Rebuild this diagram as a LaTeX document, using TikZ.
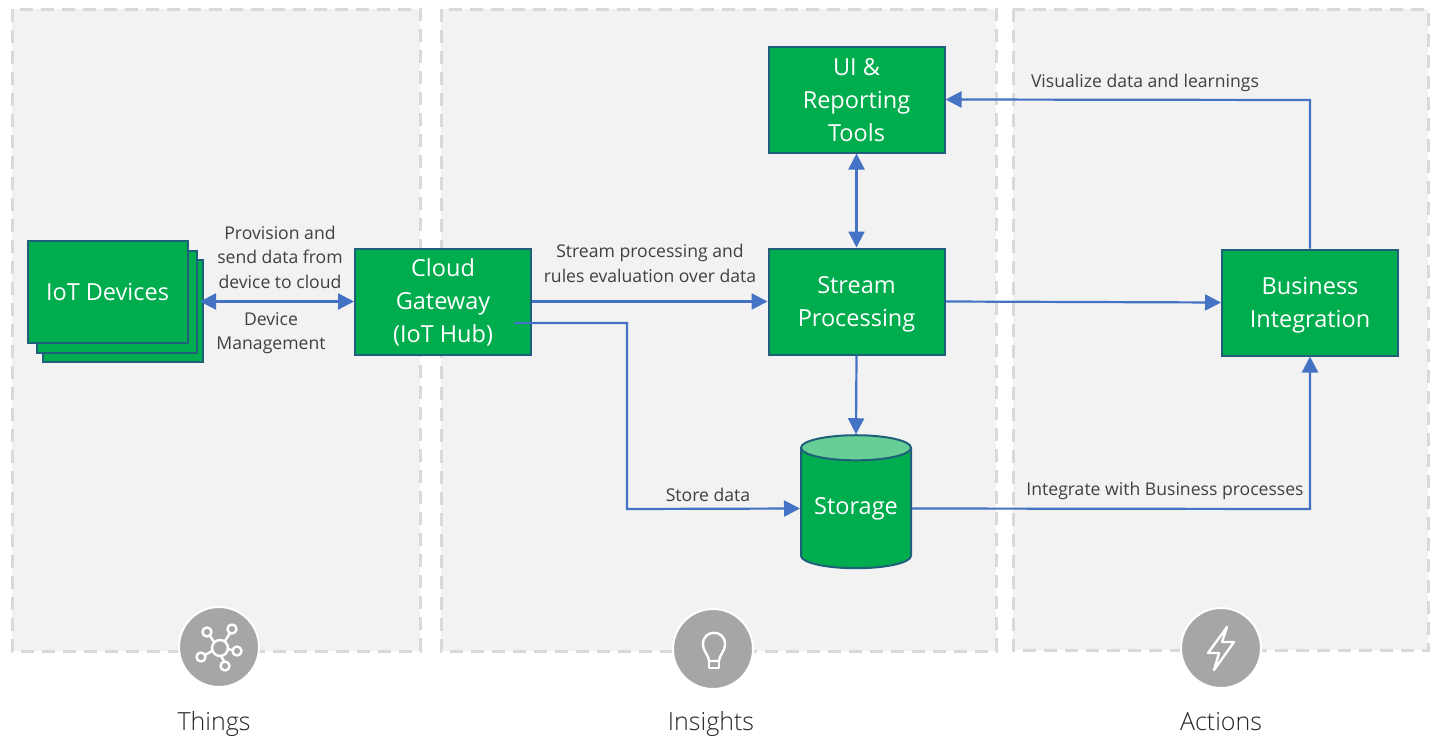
\documentclass[tikz,border=0pt]{standalone}
\usepackage{fontspec}
\setmainfont{Open Sans}
\newfontfamily\columnfont{Open Sans Light}
\usepackage{tikz}
\usetikzlibrary{arrows.meta,shapes.geometric}
\definecolor{panelgrey}{HTML}{F2F2F2}
\definecolor{dashgrey}{HTML}{D9D9D9}
\definecolor{boxgreen}{HTML}{00AD4E}
\definecolor{boxedge}{HTML}{1F5F7A}
\definecolor{arrowblue}{HTML}{4472C4}
\definecolor{iconlid}{HTML}{66CF95}
\definecolor{icongrey}{HTML}{A6A6A6}
\definecolor{textgrey}{HTML}{404040}
\tikzset{
  panel/.style={fill=panelgrey,draw=dashgrey,line width=3pt,dash pattern=on 13pt off 8pt},
  greenbox/.style={rectangle,fill=boxgreen,draw=boxedge,line width=2pt,inner sep=0pt,minimum width=176pt,minimum height=106pt,align=center,text=white,font=\fontsize{23.5}{33}\selectfont},
  stackbox/.style={rectangle,fill=boxgreen,draw=boxedge,line width=2pt,inner sep=0pt,minimum width=160pt,minimum height=102pt},
  flowlabel/.style={align=center,text=textgrey,inner sep=0pt,font=\fontsize{17.6}{24.5}\selectfont},
  flow/.style={arrowblue,line width=2.2pt,-{Triangle[length=16pt,width=16pt]}},
  flowboth/.style={arrowblue,line width=2.2pt,{Triangle[length=16pt,width=16pt]}-{Triangle[length=16pt,width=16pt]}},
  badge/.style={circle,fill=icongrey,draw=white,line width=2pt,inner sep=0pt,minimum size=80pt},
  column/.style={text=black!85,inner sep=0pt,anchor=base,font=\columnfont\fontsize{25}{28}\selectfont},
  iconline/.style={white,line width=2.4pt,line cap=round,line join=round}
}
\begin{document}
\begin{tikzpicture}[x=1pt,y=-1pt]
  \useasboundingbox (0,0) rectangle (1432,736);
  % panels
  \draw[panel] (12,9) rectangle (420,651);
  \draw[panel] (441,9) rectangle (996,651);
  \draw[panel] (1013,9) rectangle (1428,650);
  % devices stack
  \node (deviceback) at (122.5,310.5) [stackbox] {};
  \node (devicemid) at (116.5,301.5) [stackbox] {};
  \node (devices) at (107.5,291.5) [greenbox,minimum width=160pt,minimum height=102pt] {IoT Devices};
  % boxes
  \node (gateway) at (443,301.5) [greenbox,text depth=2.5pt] {Cloud\\Gateway\\(IoT Hub)};
  \node (reporting) at (856.5,99.5) [greenbox,text depth=-3pt] {UI \&\\Reporting\\Tools};
  \node (stream) at (856.5,301.5) [greenbox,text depth=0pt] {Stream\\Processing};
  \node (business) at (1310,302.5) [greenbox,text depth=0pt] {Business\\Integration};
  \node (storage) at (856,508.5) [cylinder,shape border rotate=90,aspect=0.3,draw=boxedge,line width=2pt,cylinder uses custom fill,cylinder body fill=boxgreen,cylinder end fill=iconlid,inner sep=0pt,minimum width=110pt,minimum height=133pt,text=white,font=\fontsize{23.5}{33}\selectfont] {Storage};
  % bends and free ends
  \coordinate (gatewayout) at (514,323);
  \coordinate (storebend) at (627,509);
  \coordinate (devicesend) at (200,301.5);
  \coordinate (integratebend) at (1310,509);
  \coordinate (visualbend) at (1310,100);
  % connectors
  \draw[flowboth] (devicesend) to (gateway.west);
  \draw[flow] (gateway.east) to (stream.west);
  \draw[flow] (stream.east) to (business.west);
  \draw[flowboth] (stream.north) to (reporting.south);
  \draw[flow] (stream.south) to (storage.north);
  \draw[flow] (gatewayout) -| (storebend) -- (storage.west);
  \draw[flow] (storage.east) -- (integratebend) -- (business.south);
  \draw[flow] (business.north) -- (visualbend) -- (reporting.east);
  % labels
  \node (provision) at (280,257) [flowlabel] {Provision and\\send data from\\device to cloud};
  \node (management) at (271,333) [flowlabel] {Device\\Management};
  \node (streamnote) at (650,263.5) [flowlabel] {Stream processing and\\rules evaluation over data};
  \node (storenote) at (708,495) [flowlabel] {Store data};
  \node (integratenote) at (1165,491) [flowlabel] {Integrate with Business processes};
  \node (visualnote) at (1145,83) [flowlabel] {Visualize data and learnings};
  % badges
  \node (thingsbadge) at (219,647) [badge] {};
  \node (insightsbadge) at (713,649) [badge] {};
  \node (actionsbadge) at (1221,648) [badge] {};
  \node (things) at (214,730) [column] {Things};
  \node (insights) at (711,730) [column] {Insights};
  \node (actions) at (1221,730) [column] {Actions};
  % things icon
  \draw[iconline] (220,648) circle (8pt);
  \draw[iconline] (214,642) -- (210,636) (225,641) -- (230,633) (212,651) -- (205,655) (228,649) -- (232,650) (221,656) -- (224,661);
  \draw[iconline] (207,632) circle (4.5pt) (232,629) circle (4.5pt) (201,657) circle (4.5pt) (237,651) circle (4.5pt) (225,666) circle (4.5pt);
  % insights icon
  \draw[iconline] (709,661) .. controls (709,655) and (703,652) .. (703,644) .. controls (703,629) and (725,629) .. (725,644) .. controls (725,652) and (719,655) .. (719,661) -- cycle;
  \draw[iconline] (709,661) -- (709,668) -- (719,668) -- (719,661);
  % actions icon
  \draw[iconline] (1227,627) -- (1208,653) -- (1219,653) -- (1214,670) -- (1234,642) -- (1222,642) -- cycle;
\end{tikzpicture}
\end{document}
